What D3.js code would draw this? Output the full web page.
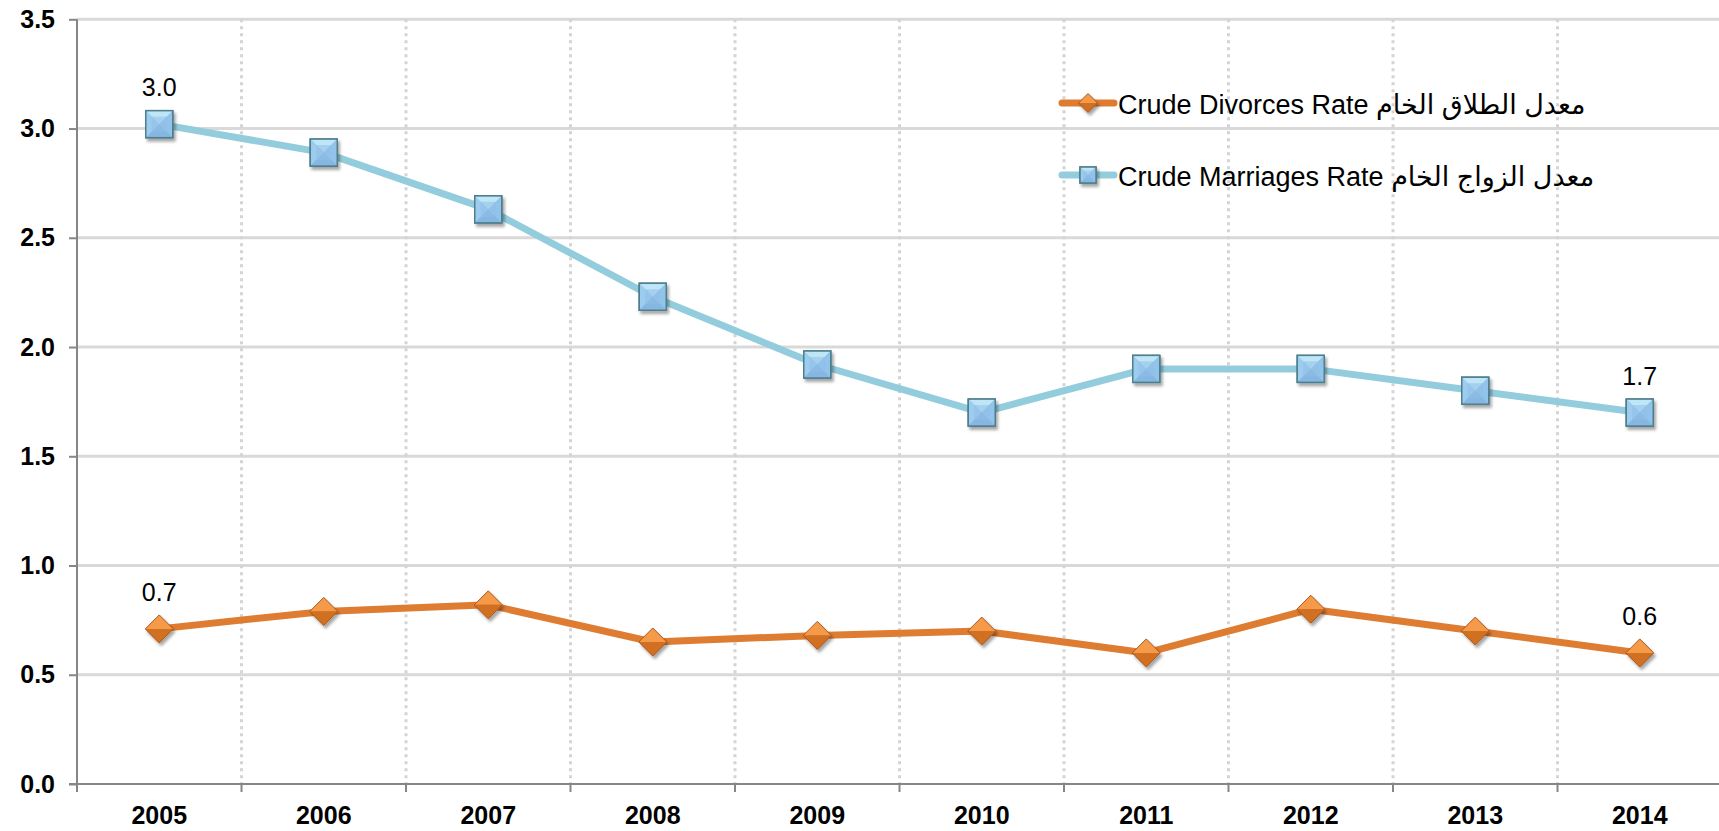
<!DOCTYPE html>
<html>
<head>
<meta charset="utf-8">
<script src="https://cdn.jsdelivr.net/npm/d3@7"></script>
<style>
  html, body { margin: 0; padding: 0; background: #fff; }
  svg { display: block; }
</style>
</head>
<body>
<svg id="chart" width="1719" height="831"></svg>
<script>
const years = ["2005","2006","2007","2008","2009","2010","2011","2012","2013","2014"];
const marriages = [3.02, 2.89, 2.63, 2.23, 1.92, 1.70, 1.90, 1.90, 1.80, 1.70];
const divorces  = [0.71, 0.79, 0.82, 0.65, 0.68, 0.70, 0.60, 0.80, 0.70, 0.60];
const yTicks = [0.0, 0.5, 1.0, 1.5, 2.0, 2.5, 3.0, 3.5];
const seriesNames = ["Crude Divorces Rate معدل الطلاق الخام", "Crude Marriages Rate معدل الزواج الخام"];
const dataLabels = [
  {series: "marriages", index: 0, text: "3.0"},
  {series: "marriages", index: 9, text: "1.7"},
  {series: "divorces", index: 0, text: "0.7"},
  {series: "divorces", index: 9, text: "0.6"}
];

const W = 1719, H = 831;
const pLeft = 77, pRight = 1722, pTop = 19.3, pBottom = 784;
const svg = d3.select("#chart");
const font = "'Liberation Sans', Arial, 'DejaVu Sans', sans-serif";

const x = d3.scaleBand().domain(years).range([pLeft, pRight]).paddingInner(0).paddingOuter(0);
const y = d3.scaleLinear().domain([0, 3.5]).range([pBottom, pTop]);
const cx = d => x(d) + x.bandwidth() / 2;

// defs
const defs = svg.append("defs");
const f = defs.append("filter").attr("id", "shadow").attr("x", "-50%").attr("y", "-50%").attr("width", "200%").attr("height", "200%");
f.append("feDropShadow").attr("dx", 2).attr("dy", 3).attr("stdDeviation", 1.6).attr("flood-color", "#000").attr("flood-opacity", 0.35);

// horizontal gridlines
svg.append("g").selectAll("line").data(yTicks.filter(d => d > 0)).join("line")
  .attr("x1", pLeft).attr("x2", W)
  .attr("y1", d => y(d)).attr("y2", d => y(d))
  .attr("stroke", "#d9d9d9").attr("stroke-width", 3);

// vertical dotted gridlines at band boundaries
svg.append("g").selectAll("line").data(years.slice(1)).join("line")
  .attr("x1", d => x(d)).attr("x2", d => x(d))
  .attr("y1", pTop).attr("y2", pBottom)
  .attr("stroke", "#d4d4d4").attr("stroke-width", 3).attr("stroke-dasharray", "3,4");

// y axis
const yAxis = svg.append("g").attr("transform", `translate(${pLeft},0)`)
  .call(d3.axisLeft(y).tickValues(yTicks).tickFormat(d3.format(".1f")).tickSize(8).tickPadding(14));
yAxis.select(".domain").attr("stroke", "#868686").attr("stroke-width", 2).attr("d", `M0,${pTop}V${pBottom}`);
yAxis.selectAll(".tick line").attr("stroke", "#868686").attr("stroke-width", 2);
yAxis.selectAll(".tick text").attr("font-family", font).attr("font-size", 25).attr("font-weight", "bold").attr("fill", "#000");

// x axis
const xAxis = svg.append("g").attr("transform", `translate(0,${pBottom})`)
  .call(d3.axisBottom(x).tickSize(0).tickPadding(22));
xAxis.select(".domain").attr("stroke", "#868686").attr("stroke-width", 2).attr("d", `M${pLeft - 8},0H${W}`);
xAxis.selectAll(".tick text").attr("font-family", font).attr("font-size", 25).attr("font-weight", "bold").attr("fill", "#000");
svg.append("g").selectAll("line").data(years.concat(["end"])).join("line")
  .attr("x1", (d, i) => pLeft + i * x.bandwidth()).attr("x2", (d, i) => pLeft + i * x.bandwidth())
  .attr("y1", pBottom).attr("y2", pBottom + 8)
  .attr("stroke", "#868686").attr("stroke-width", 2);

// lines
const line = d3.line().x((d, i) => cx(years[i])).y(d => y(d));
svg.append("path").datum(marriages).attr("d", line)
  .attr("fill", "none").attr("stroke", "#93cddd").attr("stroke-width", 7).attr("stroke-linejoin", "round");
svg.append("path").datum(divorces).attr("d", line)
  .attr("fill", "none").attr("stroke", "#de7d32").attr("stroke-width", 7).attr("stroke-linejoin", "round");

// marker drawers
function squareMarker(g, s) {
  const h = s / 2, b = s * 0.22;
  g.append("rect").attr("x", -h).attr("y", -h).attr("width", s).attr("height", s).attr("fill", "#8fbfe6").attr("stroke", "#4d7f8c").attr("stroke-width", 1.5);
  g.append("path").attr("d", `M${-h},${-h}L${h},${-h}L0,0Z`).attr("fill", "#bfe6f6");
  g.append("path").attr("d", `M${-h},${-h}L0,0L${-h},${h}Z`).attr("fill", "#9ccdee");
  g.append("path").attr("d", `M${h},${-h}L0,0L${h},${h}Z`).attr("fill", "#92c3ea");
  g.append("path").attr("d", `M${-h},${h}L0,0L${h},${h}Z`).attr("fill", "#86b6e2");
  g.append("path").attr("d", `M${-h + b},${-h + b}L${h - b},${-h + b}L${h - b},${h - b}L${-h + b},${h - b}Z`).attr("fill", "#8fc0e8").attr("opacity", 0.55);
  g.append("rect").attr("x", -h).attr("y", -h).attr("width", s).attr("height", s).attr("fill", "none").attr("stroke", "#4d7f8c").attr("stroke-width", 1.5);
}
function diamondMarker(g, s) {
  const h = s / 2;
  g.append("path").attr("d", `M${-h},0L0,${-h}L${h},0Z`).attr("fill", "#f59a48");
  g.append("path").attr("d", `M${-h},0L0,${h}L${h},0Z`).attr("fill", "#d26f22");
  g.append("path").attr("d", `M${-h},0L0,${-h}L${h},0L0,${h}Z`).attr("fill", "none").attr("stroke", "#a9561a").attr("stroke-width", 1);
}

// markers
svg.append("g").selectAll("g").data(marriages).join("g")
  .attr("transform", (d, i) => `translate(${cx(years[i])},${y(d)})`).attr("filter", "url(#shadow)")
  .each(function () { squareMarker(d3.select(this), 27); });
svg.append("g").selectAll("g").data(divorces).join("g")
  .attr("transform", (d, i) => `translate(${cx(years[i])},${y(d)})`).attr("filter", "url(#shadow)")
  .each(function () { diamondMarker(d3.select(this), 28); });

// data labels
const seriesMap = {marriages, divorces};
svg.append("g").selectAll("text").data(dataLabels).join("text")
  .attr("x", d => cx(years[d.index]))
  .attr("y", d => y(seriesMap[d.series][d.index]) - 28)
  .attr("text-anchor", "middle").attr("font-family", font).attr("font-size", 25).attr("fill", "#000")
  .text(d => d.text);

// legend
const legend = svg.append("g");
const legendRows = [
  {name: seriesNames[0], color: "#de7d32", y: 103, marker: diamondMarker, size: 19},
  {name: seriesNames[1], color: "#93cddd", y: 175, marker: squareMarker, size: 16}
];
legendRows.forEach(r => {
  legend.append("line").attr("x1", 1062).attr("x2", 1114).attr("y1", r.y).attr("y2", r.y)
    .attr("stroke", r.color).attr("stroke-width", 7).attr("stroke-linecap", "round");
  const g = legend.append("g").attr("transform", `translate(1088,${r.y})`).attr("filter", "url(#shadow)");
  r.marker(g, r.size);
  legend.append("text").attr("x", 1118).attr("y", r.y + 4).attr("dominant-baseline", "middle")
    .attr("direction", "ltr").attr("font-family", font).attr("font-size", 27).attr("fill", "#000")
    .text(r.name);
});
</script>
</body>
</html>
